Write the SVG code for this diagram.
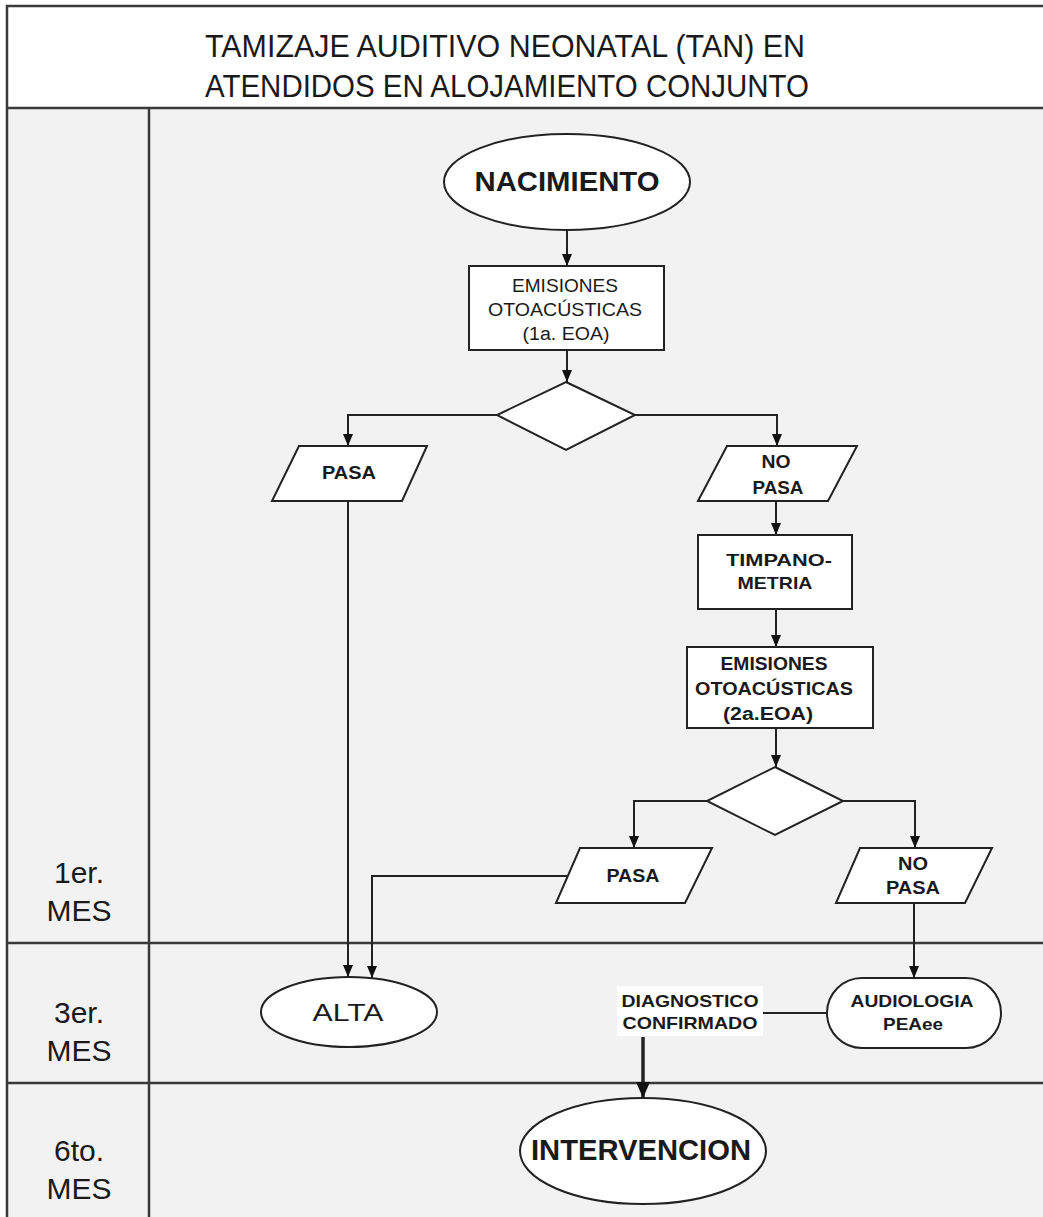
<svg xmlns="http://www.w3.org/2000/svg" width="1043" height="1217" viewBox="0 0 1043 1217">
<style>
.frame{fill:none;stroke:#3a3a3a;stroke-width:2.5}
.shape{fill:#ffffff;stroke:#222;stroke-width:2}
.conn{fill:none;stroke:#222;stroke-width:2}
.thick{fill:none;stroke:#222;stroke-width:3.5}
.t{font-family:"Liberation Sans",Arial,sans-serif;fill:#1a1a1a;text-anchor:middle}
.b{font-weight:bold}
</style>
<defs>
<marker id="ah" viewBox="0 0 12 10" refX="12" refY="5" markerWidth="12" markerHeight="10" markerUnits="userSpaceOnUse" orient="auto">
<path d="M0,0 L12,5 L0,10 z" fill="#111"/>
</marker>
<marker id="ahb" viewBox="0 0 16 14" refX="16" refY="7" markerWidth="16" markerHeight="14" markerUnits="userSpaceOnUse" orient="auto">
<path d="M0,0 L16,7 L0,14 z" fill="#111"/>
</marker>
</defs>
<rect x="0" y="0" width="1043" height="1217" fill="#ffffff"/>
<g id="frame">
<rect x="7" y="108" width="1040" height="1115" fill="#f2f2f2"/>
<rect x="7" y="6" width="1040" height="102" fill="#ffffff"/>
<path class="frame" d="M7,1220 V6 H1047 M7,108 H1047 M7,943 H1047 M7,1083 H1047 M149,108 V1220"/>
<text class="t" x="505" y="57" font-size="32" textLength="600" lengthAdjust="spacingAndGlyphs">TAMIZAJE AUDITIVO NEONATAL (TAN) EN</text>
<text class="t" x="507" y="97" font-size="32" textLength="604" lengthAdjust="spacingAndGlyphs">ATENDIDOS EN ALOJAMIENTO CONJUNTO</text>
<text class="t" x="79" y="883" font-size="30">1er.</text>
<text class="t" x="79" y="921" font-size="30">MES</text>
<text class="t" x="79" y="1023" font-size="30">3er.</text>
<text class="t" x="79" y="1061" font-size="30">MES</text>
<text class="t" x="79" y="1161" font-size="30">6to.</text>
<text class="t" x="79" y="1199" font-size="30">MES</text>
</g>
<g id="connectors">
<path class="conn" d="M567,231 V266" marker-end="url(#ah)"/>
<path class="conn" d="M567,350 V382" marker-end="url(#ah)"/>
<path class="conn" d="M497,415 H348 V446" marker-end="url(#ah)"/>
<path class="conn" d="M635,415 H777 V446" marker-end="url(#ah)"/>
<path class="conn" d="M776,501 V535" marker-end="url(#ah)"/>
<path class="conn" d="M776,609 V647" marker-end="url(#ah)"/>
<path class="conn" d="M776,728 V767" marker-end="url(#ah)"/>
<path class="conn" d="M707,801 H634 V848" marker-end="url(#ah)"/>
<path class="conn" d="M843,801 H915 V848" marker-end="url(#ah)"/>
<path class="conn" d="M348,501 V977" marker-end="url(#ah)"/>
<path class="conn" d="M568,876 H372 V978" marker-end="url(#ah)"/>
<path class="conn" d="M914,903 V978" marker-end="url(#ah)"/>
<path class="conn" d="M827,1013 H762"/>
<path class="thick" d="M643,1037 V1098" marker-end="url(#ahb)"/>
</g>
<g id="nacimiento">
<ellipse class="shape" cx="567" cy="182" rx="123" ry="48"/>
<text class="t b" x="567" y="191" font-size="27" textLength="185" lengthAdjust="spacingAndGlyphs">NACIMIENTO</text>
</g>
<g id="eoa1">
<rect class="shape" x="469" y="266" width="195" height="84"/>
<text class="t" x="565" y="292" font-size="18" textLength="106" lengthAdjust="spacingAndGlyphs">EMISIONES</text>
<text class="t" x="565" y="316" font-size="18" textLength="154" lengthAdjust="spacingAndGlyphs">OTOACÚSTICAS</text>
<text class="t" x="566" y="340" font-size="18" textLength="87" lengthAdjust="spacingAndGlyphs">(1a. EOA)</text>
</g>
<g id="decision1">
<polygon class="shape" points="566,382 635,415 566,450 497,415"/>
</g>
<g id="pasa1">
<polygon class="shape" points="299,446 427,446 402,501 272,501"/>
<text class="t b" x="349" y="479" font-size="18" textLength="54" lengthAdjust="spacingAndGlyphs">PASA</text>
</g>
<g id="nopasa1">
<polygon class="shape" points="727,446 857,446 828,501 698,501"/>
<text class="t b" x="776" y="468" font-size="18" textLength="29" lengthAdjust="spacingAndGlyphs">NO</text>
<text class="t b" x="778" y="494" font-size="18" textLength="51" lengthAdjust="spacingAndGlyphs">PASA</text>
</g>
<g id="timpanometria">
<rect class="shape" x="698" y="535" width="154" height="74"/>
<text class="t b" x="779" y="566" font-size="17" textLength="106" lengthAdjust="spacingAndGlyphs">TIMPANO-</text>
<text class="t b" x="775" y="589" font-size="17" textLength="75" lengthAdjust="spacingAndGlyphs">METRIA</text>
</g>
<g id="eoa2">
<rect class="shape" x="687" y="647" width="186" height="81"/>
<text class="t b" x="774" y="670" font-size="18" textLength="107" lengthAdjust="spacingAndGlyphs">EMISIONES</text>
<text class="t b" x="774" y="695" font-size="18" textLength="158" lengthAdjust="spacingAndGlyphs">OTOACÚSTICAS</text>
<text class="t b" x="768" y="720" font-size="18" textLength="90" lengthAdjust="spacingAndGlyphs">(2a.EOA)</text>
</g>
<g id="decision2">
<polygon class="shape" points="775,767 843,801 775,835 707,801"/>
</g>
<g id="pasa2">
<polygon class="shape" points="580,848 712,848 685,903 556,903"/>
<text class="t b" x="633" y="882" font-size="18" textLength="53" lengthAdjust="spacingAndGlyphs">PASA</text>
</g>
<g id="nopasa2">
<polygon class="shape" points="860,848 992,848 965,903 836,903"/>
<text class="t b" x="913" y="870" font-size="18" textLength="30" lengthAdjust="spacingAndGlyphs">NO</text>
<text class="t b" x="913" y="894" font-size="18" textLength="54" lengthAdjust="spacingAndGlyphs">PASA</text>
</g>
<g id="alta">
<ellipse class="shape" cx="349" cy="1012" rx="88" ry="35"/>
<text class="t" x="348" y="1021" font-size="24" textLength="71" lengthAdjust="spacingAndGlyphs">ALTA</text>
</g>
<g id="audiologia">
<rect class="shape" x="827" y="978" width="174" height="70" rx="35" ry="35"/>
<text class="t b" x="912" y="1007" font-size="17" textLength="123" lengthAdjust="spacingAndGlyphs">AUDIOLOGIA</text>
<text class="t b" x="913" y="1030" font-size="17" textLength="60" lengthAdjust="spacingAndGlyphs">PEAee</text>
</g>
<g id="diagnostico">
<rect x="617" y="986" width="146" height="50" fill="#ffffff"/>
<text class="t b" x="690" y="1007" font-size="17" textLength="137" lengthAdjust="spacingAndGlyphs">DIAGNOSTICO</text>
<text class="t b" x="690" y="1029" font-size="17" textLength="135" lengthAdjust="spacingAndGlyphs">CONFIRMADO</text>
</g>
<g id="intervencion">
<ellipse class="shape" cx="643" cy="1151" rx="123" ry="53"/>
<text class="t b" x="641" y="1160" font-size="29" textLength="220" lengthAdjust="spacingAndGlyphs">INTERVENCION</text>
</g>
</svg>
